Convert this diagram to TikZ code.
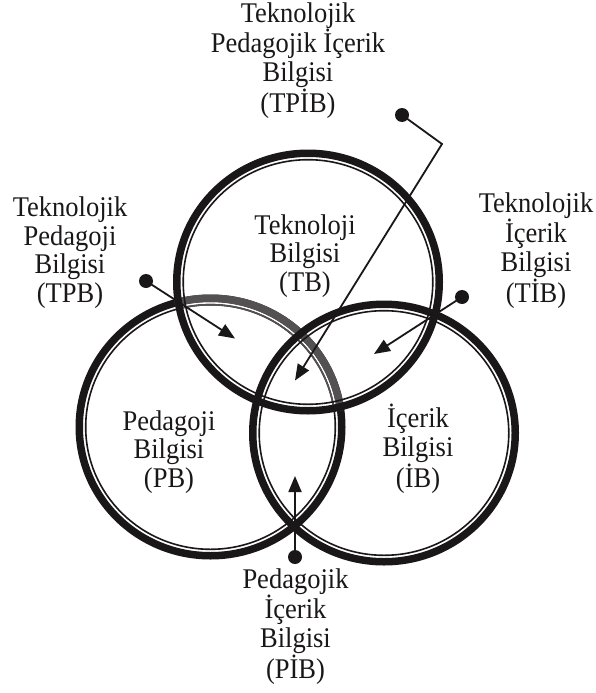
\documentclass[tikz,border=0pt]{standalone}
\usepackage{fontspec}
\setmainfont{Liberation Serif}
\newfontfamily\lblfont[FakeStretch=0.93]{Liberation Serif}
\usetikzlibrary{arrows.meta}
\definecolor{ink}{HTML}{1A1718}
\begin{document}
\begin{tikzpicture}[x=1pt,y=-1pt,
  lbl/.style={align=center,anchor=base,inner sep=0pt,font=\lblfont\fontsize{28.5}{28.4}\selectfont,text=ink},
  dotn/.style={circle,fill=ink,minimum size=14pt,inner sep=0pt},
  arr/.style={line width=1.8pt,draw=ink,-{Triangle[length=16pt,width=13pt]}},
  ringout/.style={line width=7.5pt,draw=ink},
  ringin/.style={line width=1.6pt,draw=ink}]
\useasboundingbox (0,0) rectangle (595,693);
\fill[white] (0,0) rectangle (595,693);
\coordinate (cT) at (308,282);
\coordinate (cL) at (210.5,427);
\coordinate (cR) at (384,433);
% left circle
\draw[ringout] (cL) ellipse [x radius=131.25pt, y radius=128.75pt];
\draw[ringin] (cL) ellipse [x radius=124.8pt, y radius=122.3pt];
\begin{scope}
  \clip (cT) ellipse [x radius=135pt, y radius=132.5pt];
  \draw[ringout,draw=ink!75] (cL) ellipse [x radius=131.25pt, y radius=128.75pt];
  \draw[ringin,draw=ink!75] (cL) ellipse [x radius=124.8pt, y radius=122.3pt];
\end{scope}
% top circle
\draw[ringout] (cT) ellipse [x radius=131.25pt, y radius=128.75pt];
\draw[ringin] (cT) ellipse [x radius=124.8pt, y radius=122.3pt];
% right circle
\draw[ringout] (cR) ellipse [x radius=131.25pt, y radius=128.75pt];
\draw[ringin] (cR) ellipse [x radius=124.8pt, y radius=122.3pt];
% labels (anchored at the baseline of the last line)
\node[lbl] (tpib) at (298,112) {Teknolojik\\Pedagojik İçerik\\Bilgisi\\(TPİB)};
\node[lbl] (tpb) at (70,302) {Teknolojik\\Pedagoji\\Bilgisi\\(TPB)};
\node[lbl] (tib) at (536,302) {Teknolojik\\İçerik\\Bilgisi\\(TİB)};
\node[lbl] (tb) at (305,291) {Teknoloji\\Bilgisi\\(TB)};
\node[lbl] (pb) at (169,487) {Pedagoji\\Bilgisi\\(PB)};
\node[lbl] (ib) at (418,487) {İçerik\\Bilgisi\\(İB)};
\node[lbl] (pib) at (295.5,678) {Pedagojik\\İçerik\\Bilgisi\\(PİB)};
% connectors
\node[dotn] (d1) at (402,115) {};
\coordinate (k1) at (442,144);
\coordinate (t1) at (295,380.5);
\draw[arr] (d1.center) -- (k1) -- (t1);
\node[dotn] (d2) at (146,281) {};
\coordinate (t2) at (235,338.5);
\draw[arr] (d2.center) -- (t2);
\node[dotn] (d3) at (462,297) {};
\coordinate (t3) at (374,354);
\draw[arr] (d3.center) -- (t3);
\node[dotn] (d4) at (295,557) {};
\coordinate (t4) at (295,476);
\draw[arr] (d4.center) -- (t4);
\end{tikzpicture}
\end{document}
